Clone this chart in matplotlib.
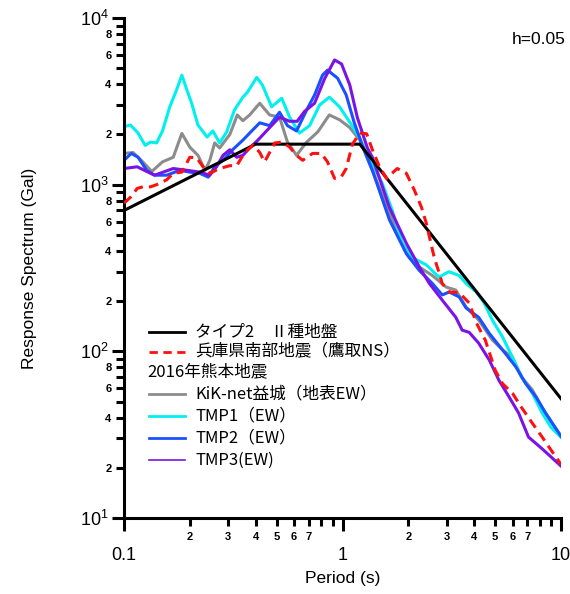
import matplotlib
matplotlib.use("Agg")
import matplotlib.pyplot as plt
from matplotlib.lines import Line2D
from matplotlib.ticker import FixedLocator, FixedFormatter

plt.rcParams['font.family'] = ['Liberation Sans', 'DejaVu Sans']
plt.rcParams['mathtext.fontset'] = 'custom'
plt.rcParams['mathtext.rm'] = 'Liberation Sans'

# design spectrum (type 2, class II ground)
spec_T = [0.1, 0.4, 1.2, 10.0]
spec_S = [700, 1750, 1750, 52]

# 1995 Hyogo-ken Nanbu (Takatori NS)
kobe_T = [0.1, 0.107, 0.115, 0.122, 0.132, 0.141, 0.157, 0.168, 0.184, 0.2, 0.215, 0.23,
          0.247, 0.274, 0.305, 0.328, 0.357, 0.39, 0.418, 0.44, 0.464, 0.49, 0.53, 0.573,
          0.616, 0.657, 0.73, 0.8, 0.854, 0.92, 0.99, 1.04, 1.11, 1.2, 1.29, 1.37, 1.47,
          1.59, 1.78, 1.96, 2.13, 2.3, 2.42, 2.5, 2.63, 2.77, 2.86, 3.08, 3.42, 3.8, 4.1,
          4.5, 5.0, 5.4, 6.0, 6.6, 7.4, 8.2, 9.0, 10.0]
kobe_S = [775, 840, 950, 970, 970, 1000, 1070, 1170, 1190, 1460, 1450, 1280,
          1170, 1250, 1300, 1300, 1560, 1730, 1560, 1370, 1560, 1780, 1800, 1680,
          1500, 1400, 1540, 1540, 1370, 1090, 1120, 1250, 1750, 2040, 2020, 1620, 1300,
          1090, 1250, 1170, 930, 730, 585, 485, 365, 295, 255, 227, 225, 195, 148,
          117, 77, 64, 56, 46, 37, 30.6, 25.6, 21]

# KiK-net Mashiki (surface EW)
kik_T = [0.1, 0.11, 0.12, 0.134, 0.15, 0.168, 0.184, 0.2, 0.218, 0.235, 0.247, 0.26,
         0.274, 0.305, 0.33, 0.35, 0.376, 0.418, 0.464, 0.515, 0.56, 0.616, 0.685, 0.77,
         0.87, 0.97, 1.08, 1.2, 1.47, 1.82, 2.02, 2.25, 2.58, 2.98, 3.3, 3.68, 4.2, 4.85,
         5.4, 6.0, 6.6, 7.4, 8.2, 10.0]
kik_S = [1540, 1560, 1400, 1200, 1370, 1460, 2030, 1680, 1500, 1220, 1400, 1780,
         1660, 2000, 2620, 2420, 2620, 3080, 2620, 2540, 1800, 1500, 1800, 2070,
         2620, 2450, 2200, 1850, 970, 485, 365, 320, 285, 243, 233, 184, 154, 117,
         102, 92, 70, 58.6, 46, 30.6]

# TMP1 (EW)
tmp1_T = [0.1, 0.107, 0.116, 0.125, 0.132, 0.141, 0.15, 0.162, 0.174, 0.184, 0.194, 0.204,
          0.218, 0.24, 0.255, 0.274, 0.295, 0.32, 0.35, 0.368, 0.405, 0.43, 0.474, 0.527,
          0.573, 0.636, 0.707, 0.785, 0.87, 0.97, 1.08, 1.2, 1.3, 1.52, 1.69, 1.88, 2.09,
          2.42, 2.77, 2.98, 3.08, 3.42, 3.68, 4.1, 4.45, 4.85, 5.4, 6.0, 6.6, 7.4, 8.2,
          9.0, 10.0]
tmp1_S = [2230, 2280, 2040, 1720, 1800, 1780, 2100, 2930, 3700, 4540, 3700, 3080,
          2280, 1930, 2100, 1780, 2070, 2800, 3350, 3600, 4400, 3960, 2930, 3300,
          2540, 2040, 2260, 3000, 3350, 2930, 2370, 1900, 1500, 1020, 700, 445, 365,
          330, 278, 295, 300, 285, 255, 227, 195, 154, 122, 92, 70, 56, 42.6,
          35, 30.5]

# TMP2 (EW)
tmp2_T = [0.1, 0.108, 0.116, 0.127, 0.138, 0.157, 0.18, 0.2, 0.222, 0.243, 0.26, 0.284,
          0.314, 0.35, 0.376, 0.418, 0.464, 0.515, 0.56, 0.616, 0.685, 0.745, 0.81, 0.854,
          0.95, 1.04, 1.13, 1.23, 1.37, 1.64, 1.96, 2.25, 2.58, 2.86, 3.08, 3.42, 3.68,
          4.2, 4.7, 5.4, 6.2, 6.9, 7.7, 8.5, 10.0]
tmp2_S = [1400, 1540, 1460, 1220, 1140, 1140, 1220, 1190, 1170, 1110, 1280, 1400,
          1620, 1850, 2040, 2350, 2260, 2720, 2260, 2100, 2800, 3450, 4540, 4870,
          4350, 3450, 2370, 1730, 1220, 615, 385, 305, 255, 218, 227, 212, 182,
          160, 128, 102, 81, 64, 53, 42.6, 31]

# TMP3 (EW)
tmp3_T = [0.1, 0.115, 0.127, 0.138, 0.168, 0.194, 0.222, 0.247, 0.265, 0.284, 0.305, 0.328,
          0.35, 0.376, 0.41, 0.464, 0.515, 0.573, 0.62, 0.67, 0.745, 0.83, 0.92, 0.99,
          1.08, 1.17, 1.3, 1.37, 1.64, 1.96, 2.25, 2.5, 2.86, 3.3, 3.53, 3.8, 4.2, 4.7,
          5.2, 5.8, 6.4, 7.1, 8.2, 10.0]
tmp3_S = [1250, 1280, 1200, 1140, 1250, 1220, 1190, 1140, 1280, 1500, 1620, 1460,
          1500, 1660, 1850, 2200, 2540, 2400, 2400, 2750, 3080, 4350, 5600, 5300,
          3960, 2520, 1660, 1460, 730, 445, 320, 255, 203, 160, 134, 130, 112, 88.5,
          67, 53, 42.6, 30.6, 26, 20.5]

fig = plt.figure(figsize=(5.7, 5.94), dpi=100)
ax = fig.add_axes([124 / 570, 1 - 518 / 594, (561 - 124) / 570, (518 - 18) / 594])

lw = 2.2
ax.plot(spec_T, spec_S, color='black', lw=lw, zorder=3)
ax.plot(kik_T, kik_S, color='#8c8c8c', lw=lw)
ax.plot(tmp1_T, tmp1_S, color='#00f0f0', lw=lw)
ax.plot(tmp2_T, tmp2_S, color='#1a50ff', lw=lw)
ax.plot(tmp3_T, tmp3_S, color='#7a14e6', lw=lw)
ax.plot(kobe_T, kobe_S, color='#ff1010', lw=lw, dashes=(3.2, 2), zorder=4)

ax.set_xscale('log')
ax.set_yscale('log')
ax.set_xlim(0.1, 10)
ax.set_ylim(10, 1e4)

for s in ['top', 'right']:
    ax.spines[s].set_visible(False)
for s in ['left', 'bottom']:
    ax.spines[s].set_linewidth(2.2)

# x ticks
ax.xaxis.set_major_locator(FixedLocator([0.1, 1, 10]))
ax.xaxis.set_major_formatter(FixedFormatter(['0.1', '1', '10']))
xm = [m * d for d in [0.1, 1] for m in range(2, 10)]
xml = [str(m) if m <= 7 else '' for d in [0.1, 1] for m in range(2, 10)]
ax.xaxis.set_minor_locator(FixedLocator(xm))
ax.xaxis.set_minor_formatter(FixedFormatter(xml))

# y ticks
ax.yaxis.set_major_locator(FixedLocator([10, 100, 1000, 10000]))
ax.yaxis.set_major_formatter(FixedFormatter([r'$10^1$', r'$10^2$', r'$10^3$', r'$10^4$']))
ym = [m * d for d in [10, 100, 1000] for m in range(2, 10)]
yml = [str(m) if m % 2 == 0 else '' for d in [10, 100, 1000] for m in range(2, 10)]
ax.yaxis.set_minor_locator(FixedLocator(ym))
ax.yaxis.set_minor_formatter(FixedFormatter(yml))

ax.tick_params(which='major', direction='out', length=9, width=2.2, labelsize=13)
ax.tick_params(which='minor', direction='out', length=6, width=2.2, labelsize=8)
ax.tick_params(axis='x', which='major', pad=12)
ax.tick_params(axis='x', which='minor', pad=4)
ax.tick_params(axis='y', which='major', pad=2)
ax.tick_params(axis='y', which='minor', pad=3)
for lab in ax.xaxis.get_minorticklabels() + ax.yaxis.get_minorticklabels():
    lab.set_fontweight('bold')

ax.set_xlabel('Period (s)', fontsize=12.5)
ax.set_ylabel('Response Spectrum (Gal)', fontsize=12.5)
ax.xaxis.set_label_coords(0.501, -0.105)
ax.yaxis.set_label_coords(-0.2, 0.5)
fig.text(566 / 570, 1 - 40 / 594, 'h=0.05', ha='right', va='center', fontsize=12.5)

# legend drawn by hand to keep the heading row without a handle
jp = ['Noto Sans CJK JP', 'DejaVu Sans']
rows = [
    ('タイプ2\u3000Ⅱ種地盤', dict(color='black', lw=2)),
    ('兵庫県南部地震（鷹取NS）', dict(color='#ff1010', lw=2, dashes=(3, 2))),
    ('2016年熊本地震', None),
    ('KiK-net益城（地表EW）', dict(color='#8c8c8c', lw=2)),
    ('TMP1（EW）', dict(color='#00f0f0', lw=2)),
    ('TMP2（EW）', dict(color='#1a50ff', lw=2)),
    ('TMP3(EW)', dict(color='#7a14e6', lw=1.2)),
]
row_y = [332, 352, 372, 394, 416, 438, 460]
for (label, style), yp in zip(rows, row_y):
    fy = 1 - yp / 594
    if style is None:
        fig.text(147 / 570, fy, label, family=jp, fontsize=12, va='center', ha='left')
    else:
        fig.add_artist(Line2D([149 / 570, 185 / 570], [fy, fy], transform=fig.transFigure, **style))
        fig.text(195 / 570, fy, label, family=jp, fontsize=12, va='center', ha='left')

fig.savefig('out.png', dpi=100)
